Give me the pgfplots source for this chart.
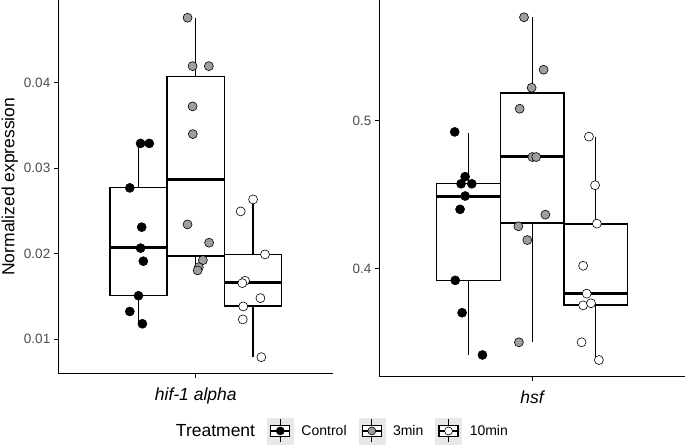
\documentclass[border=0pt]{standalone}
\usepackage{fontspec}
\setmainfont{Liberation Sans}
\usepackage{pgfplots}
\pgfplotsset{compat=1.18}

\definecolor{tickgrey}{RGB}{77,77,77}
\definecolor{midgrey}{RGB}{158,158,158}
\definecolor{keybg}{RGB}{232,232,232}

\pgfplotsset{
  panel/.style={
    scale only axis, anchor=south west,
    xmin=0.4, xmax=1.6, xtick={1},
    axis x line*=bottom, axis y line*=left,
    axis line style={line width=1.3pt, black},
    tick align=outside, major tick length=4.5pt,
    tick style={line width=1pt, black},
    yticklabel style={font=\fontsize{13.5}{16}\selectfont, text=tickgrey},
    xticklabel style={font=\itshape\fontsize{17.5}{20}\selectfont, text=black, yshift=-6pt},
    legend style={draw=none, fill=none, font=\fontsize{14}{16}\selectfont},
  },
  whisk/.style={black, line width=1.3pt, forget plot},
  boxst/.style={draw=black, fill=white, line width=1.4pt, line join=miter, forget plot},
  medst/.style={black, line width=3pt, forget plot},
  pts/.style={only marks, mark=*, mark size=4.5pt, forget plot,
    mark options={draw=black, fill=#1, line width=0.6pt}},
  keyimg/.style={legend image code/.code={
    \fill[keybg] (0pt,-13pt) rectangle (26pt,13pt);
    \draw[line width=1.1pt] (13pt,-11.5pt) -- (13pt,12pt);
    \filldraw[fill=white, line width=1.3pt] (3.5pt,-5.5pt) rectangle (22.5pt,5.5pt);
    \draw[line width=1.8pt] (3.5pt,0pt) -- (22.5pt,0pt);
    \filldraw[fill=#1, line width=0.6pt] (13pt,0pt) circle (4pt);
  }},
}

% box: left, centre, right, lower whisker, Q1, median, Q3, upper whisker
\newcommand{\gbox}[8]{%
  \addplot[whisk] coordinates {(#2,#4) (#2,#5)};
  \addplot[whisk] coordinates {(#2,#7) (#2,#8)};
  \addplot[boxst] coordinates {(#1,#5) (#3,#5) (#3,#7) (#1,#7)} -- cycle;
  \addplot[medst] coordinates {(#1,#6) (#3,#6)};
}

\begin{document}
\begin{tikzpicture}
\path[use as bounding box] (0,0) rectangle (685pt,446pt);

% hif-1 alpha
\begin{axis}[panel, at={(58.3pt,72.7pt)}, width=275pt, height=373.3pt,
  ymin=0.00602, ymax=0.04967,
  ytick={0.01,0.02,0.03,0.04}, yticklabels={0.01,0.02,0.03,0.04},
  xticklabels={hif-1 alpha},
  ylabel={Normalized expression},
  ylabel style={at={(axis description cs:-0.176,0.5)}, anchor=center,
    font=\fontsize{17.5}{20}\selectfont},
]
\gbox{0.625}{0.75}{0.875}{0.01181}{0.01509}{0.0207}{0.02772}{0.03287}
\gbox{0.875}{1.0}{1.125}{0.01805}{0.01972}{0.02866}{0.04074}{0.0476}
\gbox{1.125}{1.25}{1.375}{0.00791}{0.01387}{0.01668}{0.01992}{0.02635}

\addplot[pts=black] coordinates {
  (0.759,0.0329) (0.797,0.0329) (0.712,0.0277) (0.764,0.02311) (0.759,0.02066)
  (0.771,0.01913) (0.750,0.01509) (0.712,0.01325) (0.767,0.01181)};
\addplot[pts=midgrey] coordinates {
  (0.964,0.0476) (0.986,0.04194) (1.057,0.04194) (0.986,0.03723) (0.987,0.03399)
  (0.964,0.02343) (1.058,0.02129) (1.031,0.01925) (1.013,0.01843) (1.008,0.01805)};
\addplot[pts=white] coordinates {
  (1.250,0.02635) (1.196,0.02495) (1.302,0.01992) (1.215,0.01684) (1.203,0.01656)
  (1.282,0.01481) (1.207,0.01384) (1.205,0.01232) (1.286,0.00791)};
\end{axis}

% hsf
\begin{axis}[panel, at={(379.3pt,69.3pt)}, width=305.7pt, height=376.7pt,
  ymin=0.3269, ymax=0.5819,
  ytick={0.4,0.5}, yticklabels={0.4,0.5},
  xticklabels={hsf},
  legend columns=4,
  legend style={at={(-0.132,-0.144)}, anchor=center,
    /tikz/every odd column/.append style={column sep=6pt},
    /tikz/every even column/.append style={column sep=10pt}},
]
\gbox{0.625}{0.75}{0.875}{0.3416}{0.3921}{0.4492}{0.4575}{0.4921}
\gbox{0.875}{1.0}{1.125}{0.3502}{0.4309}{0.4761}{0.5190}{0.5702}
\gbox{1.125}{1.25}{1.375}{0.3382}{0.3754}{0.3831}{0.4303}{0.4894}

\addplot[pts=black] coordinates {
  (0.696,0.4926) (0.737,0.4623) (0.721,0.4575) (0.763,0.4575) (0.737,0.4492)
  (0.717,0.4402) (0.698,0.3921) (0.725,0.3702) (0.805,0.3416)};
\addplot[pts=midgrey] coordinates {
  (0.968,0.5702) (1.045,0.5347) (0.998,0.5225) (0.951,0.5083) (1.001,0.4756)
  (1.016,0.4756) (1.052,0.4366) (0.946,0.4287) (0.981,0.4194) (0.948,0.3502)};
\addplot[pts=white] coordinates {
  (1.223,0.4894) (1.247,0.4565) (1.254,0.4305) (1.200,0.4020) (1.214,0.3831)
  (1.200,0.3752) (1.231,0.3766) (1.194,0.3502) (1.262,0.3382)};

\addlegendimage{empty legend}
\addlegendentry{\fontsize{17.5}{20}\selectfont Treatment}
\addlegendimage{keyimg=black}
\addlegendentry{Control}
\addlegendimage{keyimg=midgrey}
\addlegendentry{3min}
\addlegendimage{keyimg=white}
\addlegendentry{10min}
\end{axis}
\end{tikzpicture}
\end{document}
